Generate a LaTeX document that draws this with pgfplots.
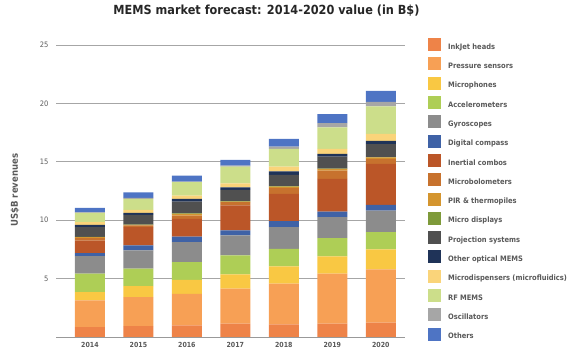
\documentclass[border=0pt]{standalone}
\usepackage{pgfplots}
\pgfplotsset{compat=1.18}
\usepackage{pgfplotstable}
\usepackage{fontspec}
\setmainfont{DejaVu Sans Condensed}
\definecolor{cInk}{HTML}{EE8348}
\definecolor{cPres}{HTML}{F7A055}
\definecolor{cMic}{HTML}{F9C843}
\definecolor{cAcc}{HTML}{AECE56}
\definecolor{cGyr}{HTML}{8C8C8C}
\definecolor{cCmp}{HTML}{3F62A6}
\definecolor{cIne}{HTML}{BB5628}
\definecolor{cMbo}{HTML}{C7722E}
\definecolor{cPir}{HTML}{D4952F}
\definecolor{cMdi}{HTML}{7E9A3A}
\definecolor{cPrj}{HTML}{505050}
\definecolor{cOpt}{HTML}{1F3358}
\definecolor{cMfl}{HTML}{FAD47A}
\definecolor{cRf}{HTML}{CCDE8A}
\definecolor{cOsc}{HTML}{A6A6A6}
\definecolor{cOth}{HTML}{4E74C4}
\definecolor{txt}{HTML}{595959}
\pgfplotstableread{
x ink pres mic acc gyr cmp ine mbo pir mdi prj opt mfl rf osc oth
0 0.85 2.29 0.71 1.57 1.50 0.26 1.08 0.20 0.09 0.03 0.82 0.20 0.23 0.80 0.05 0.38
1 0.94 2.48 0.94 1.49 1.56 0.43 1.56 0.15 0.05 0.03 0.83 0.17 0.25 0.95 0.08 0.48
2 1.00 2.70 1.20 1.51 1.71 0.48 1.52 0.28 0.15 0.03 1.02 0.23 0.28 1.14 0.05 0.52
3 1.14 3.00 1.22 1.62 1.71 0.43 2.14 0.28 0.06 0.03 0.97 0.22 0.34 1.43 0.09 0.48
4 1.09 3.47 1.48 1.51 1.85 0.51 2.35 0.51 0.11 0.03 0.97 0.31 0.40 1.51 0.20 0.66
5 1.14 4.28 1.49 1.55 1.80 0.48 2.79 0.72 0.14 0.03 1.02 0.23 0.43 1.85 0.37 0.77
6 1.23 4.57 1.71 1.46 1.85 0.49 3.51 0.43 0.13 0.03 1.11 0.28 0.58 2.36 0.40 0.94
}\data
\begin{document}
\begin{tikzpicture}
\path[use as bounding box] (0,0) rectangle (576bp,355bp);
\begin{axis}[
  at={(56bp,18bp)}, anchor=south west,
  scale only axis, width=349bp, height=292bp,
  ybar stacked, bar width=30bp,
  xmin=-0.7, xmax=6.5, ymin=0, ymax=25,
  xtick=data, xticklabels={2014,2015,2016,2017,2018,2019,2020},
  ytick={5,10,15,20,25},
  major tick length=0pt,
  ymajorgrids, grid style={draw=black!35, line width=0.8pt},
  axis lines*=left,
  y axis line style={draw=none},
  x axis line style={draw=black!40, line width=0.8pt},
  /pgf/number format/assume math mode=true,
  xticklabel style={font=\fontsize{7}{8}\selectfont\bfseries, text=txt, yshift=-1.5bp},
  yticklabel style={font=\fontsize{7.5}{8}\selectfont, text=txt, xshift=-4bp},
  ylabel={US\$B revenues},
  every axis y label/.style={at={(rel axis cs:0,0.503)}, xshift=-41bp, rotate=90, anchor=center, font=\fontsize{9.5}{11}\selectfont\bfseries, text=txt},
  title={MEMS market forecast: 2014-2020 value (in B\$)},
  title style={at={(rel axis cs:0.603,1.096)}, anchor=center, font=\fontsize{12.6}{14}\selectfont\bfseries, text=black!85},
  legend cell align=left,
  legend image code/.code={\fill[#1] (0bp,-4bp) rectangle (13bp,9bp);},
  legend style={at={(rel axis cs:1.057,1.031)}, anchor=north west, draw=none, fill=none,
    font=\fontsize{7.5}{9}\selectfont\bfseries, text=txt, row sep=6.3bp, column sep=7bp,
    nodes={inner sep=0pt}},
  every axis plot/.append style={draw=none},
]
\addplot[fill=cInk] table[x=x,y=ink]{\data}; \addlegendentry{InkJet heads}
\addplot[fill=cPres] table[x=x,y=pres]{\data}; \addlegendentry{Pressure sensors}
\addplot[fill=cMic] table[x=x,y=mic]{\data}; \addlegendentry{Microphones}
\addplot[fill=cAcc] table[x=x,y=acc]{\data}; \addlegendentry{Accelerometers}
\addplot[fill=cGyr] table[x=x,y=gyr]{\data}; \addlegendentry{Gyroscopes}
\addplot[fill=cCmp] table[x=x,y=cmp]{\data}; \addlegendentry{Digital compass}
\addplot[fill=cIne] table[x=x,y=ine]{\data}; \addlegendentry{Inertial combos}
\addplot[fill=cMbo] table[x=x,y=mbo]{\data}; \addlegendentry{Microbolometers}
\addplot[fill=cPir] table[x=x,y=pir]{\data}; \addlegendentry{PIR \& thermopiles}
\addplot[fill=cMdi] table[x=x,y=mdi]{\data}; \addlegendentry{Micro displays}
\addplot[fill=cPrj] table[x=x,y=prj]{\data}; \addlegendentry{Projection systems}
\addplot[fill=cOpt] table[x=x,y=opt]{\data}; \addlegendentry{Other optical MEMS}
\addplot[fill=cMfl] table[x=x,y=mfl]{\data}; \addlegendentry{Microdispensers (microfluidics)}
\addplot[fill=cRf] table[x=x,y=rf]{\data}; \addlegendentry{RF MEMS}
\addplot[fill=cOsc] table[x=x,y=osc]{\data}; \addlegendentry{Oscillators}
\addplot[fill=cOth] table[x=x,y=oth]{\data}; \addlegendentry{Others}
\end{axis}
\end{tikzpicture}
\end{document}
